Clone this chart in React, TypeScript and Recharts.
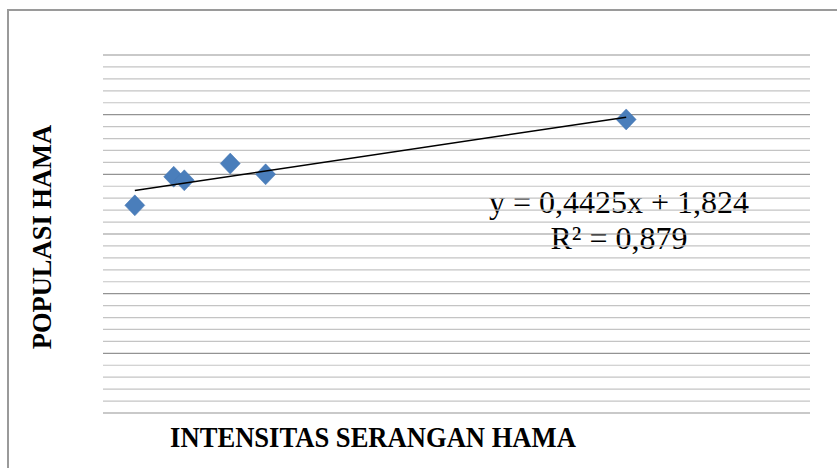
import React from 'react';
import { ScatterChart, Scatter, XAxis, YAxis, ReferenceLine } from 'recharts';

// Observed data (INTENSITAS SERANGAN HAMA vs POPULASI HAMA)
const intensitas = [0.09, 0.2, 0.23, 0.36, 0.46, 1.48];
const populasi = [1.74, 1.98, 1.95, 2.09, 2.0, 2.46];

// Trendline shown on chart
const trendSlope = 0.4425;
const trendIntercept = 1.824;
const equationLabel = 'y = 0,4425x + 1,824';
const r2Label = 'R² = 0,879';

// Axis labels
const xLabel = 'INTENSITAS SERANGAN HAMA';
const yLabel = 'POPULASI HAMA';

// Gridline values
const minorGrid = [
  0.1, 0.2, 0.3, 0.4, 0.6, 0.7, 0.8, 0.9, 1.1, 1.2, 1.3, 1.4, 1.6, 1.7, 1.8, 1.9,
  2.1, 2.2, 2.3, 2.4, 2.6, 2.7, 2.8, 2.9,
];
const majorGrid = [0, 0.5, 1, 1.5, 2, 2.5, 3];

const xDomain = [0, 2];
const yDomain = [0, 3];

const points = intensitas.map((x, i) => ({ x, y: populasi[i] }));
const xMin = Math.min(...intensitas);
const xMax = Math.max(...intensitas);
const trend = [
  { x: xMin, y: trendSlope * xMin + trendIntercept },
  { x: xMax, y: trendSlope * xMax + trendIntercept },
];

const FONT = '"Liberation Serif", "Times New Roman", serif';

const Diamond = (props: any) => {
  const { cx, cy } = props;
  if (cx == null || cy == null) return <g />;
  const w = 10;
  const h = 10.5;
  return (
    <polygon
      points={`${cx},${cy - h} ${cx + w},${cy} ${cx},${cy + h} ${cx - w},${cy}`}
      fill="#4a7ebb"
      stroke="#4677b3"
      strokeWidth={0.5}
    />
  );
};

const NoShape = () => <g />;

export default function App() {
  return (
    <div
      style={{
        position: 'absolute',
        left: 0,
        top: 0,
        width: 837,
        height: 468,
        overflow: 'hidden',
        background: '#fff',
      }}
    >
      <div
        style={{
          position: 'absolute',
          left: 7,
          top: 9,
          width: 900,
          height: 500,
          borderLeft: '2px solid #9a9a9a',
          borderTop: '2px solid #9a9a9a',
        }}
      />
      <div style={{ position: 'absolute', left: 0, top: 0 }}>
        <ScatterChart
          width={837}
          height={468}
          margin={{ top: 55, right: 27, bottom: 55, left: 103 }}
        >
          <XAxis type="number" dataKey="x" domain={xDomain} hide />
          <YAxis type="number" dataKey="y" domain={yDomain} hide />
          {minorGrid.map((v) => (
            <ReferenceLine key={'mi' + v} y={v} stroke="#c4c4c4" strokeWidth={1.2} />
          ))}
          {majorGrid.map((v) => (
            <ReferenceLine key={'ma' + v} y={v} stroke="#939393" strokeWidth={1.2} />
          ))}
          <Scatter data={points} shape={<Diamond />} isAnimationActive={false} />
          <Scatter
            data={trend}
            shape={<NoShape />}
            line={{ stroke: '#000', strokeWidth: 1.5 }}
            isAnimationActive={false}
          />
          <text
            x={619}
            y={213}
            textAnchor="middle"
            fontFamily={FONT}
            fontSize={32}
            fill="#000"
          >
            {equationLabel}
          </text>
          <text
            x={619}
            y={249}
            textAnchor="middle"
            fontFamily={FONT}
            fontSize={32}
            fill="#000"
          >
            {r2Label}
          </text>
          <text
            x={373}
            y={447}
            textAnchor="middle"
            fontFamily={FONT}
            fontSize={26.6}
            fontWeight="bold"
            fill="#000"
            transform="translate(0 447) scale(1 1.07) translate(0 -447)"
          >
            {xLabel}
          </text>
          <text
            x={51}
            y={237}
            textAnchor="middle"
            fontFamily={FONT}
            fontSize={26.5}
            fontWeight="bold"
            fill="#000"
            transform="rotate(-90 51 237)"
          >
            {yLabel}
          </text>
        </ScatterChart>
      </div>
    </div>
  );
}
